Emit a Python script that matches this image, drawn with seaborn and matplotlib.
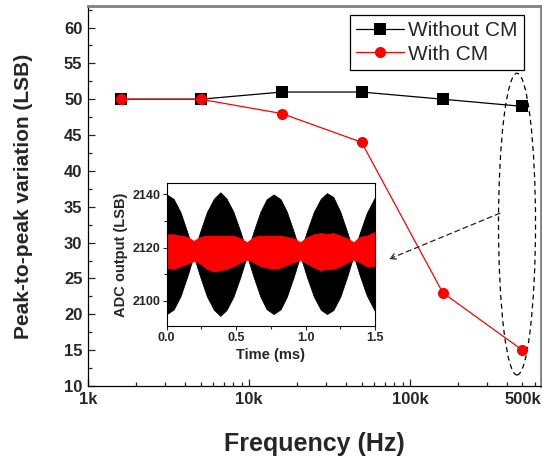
import numpy as np
import pandas as pd
import matplotlib
matplotlib.use('Agg')
import matplotlib.pyplot as plt
from matplotlib.patches import Ellipse
from matplotlib.ticker import FixedLocator, MultipleLocator, NullFormatter
import seaborn as sns

# main curves
freq_hz = [1.6e3, 5e3, 1.6e4, 5e4, 1.6e5, 5e5]
without_cm = [50, 50, 51, 51, 50, 49]
with_cm = [50, 50, 48, 44, 23, 15]
freq_ticks = [1e3, 1e4, 1e5, 5e5]
freq_labels = ['1k', '10k', '100k', '500k']

# inset: envelopes of the ADC output bands
time_ms = [0.0, 0.05, 0.1, 0.15, 0.194, 0.24, 0.29, 0.34, 0.386, 0.43, 0.48,
           0.53, 0.578, 0.625, 0.675, 0.72, 0.77, 0.82, 0.865, 0.915, 0.962,
           1.01, 1.06, 1.11, 1.154, 1.2, 1.25, 1.3, 1.346, 1.39, 1.44, 1.5]
black_upper = [2140, 2138.3, 2133.2, 2125.5, 2118, 2125.8, 2133.4, 2138.4,
               2140.8, 2138.5, 2133.5, 2126.1, 2118, 2125.9, 2133.5, 2138.2,
               2140, 2138.2, 2133.5, 2125.9, 2118, 2126.1, 2133.5, 2138.4,
               2140.5, 2139, 2133.5, 2125.8, 2118, 2125.4, 2132.9, 2139]
black_lower = [2095, 2096.7, 2101.8, 2109.5, 2117, 2109.2, 2101.6, 2096.6,
               2094.3, 2096.5, 2101.5, 2108.9, 2117, 2109.1, 2101.5, 2096.8,
               2095, 2096.8, 2101.5, 2109.1, 2117, 2108.9, 2101.5, 2096.6,
               2095, 2096.5, 2101.5, 2109.2, 2117, 2109.6, 2102.1, 2096]
red_upper = [2125, 2125, 2124.5, 2124, 2122.5, 2124, 2124.5, 2124.5, 2124.5,
             2124.5, 2124.5, 2123.5, 2122, 2124, 2124.5, 2124.5, 2124.5,
             2124.5, 2124, 2123.5, 2122, 2124, 2125, 2125.5, 2125, 2125.5,
             2124.5, 2123.5, 2122, 2124, 2124.5, 2126]
red_lower = [2112.5, 2112, 2113, 2114, 2115, 2114, 2112, 2111, 2111.5, 2112,
             2113, 2114.5, 2115.5, 2114.5, 2113, 2112.5, 2112, 2112.5, 2113.5,
             2114.5, 2115.5, 2114, 2112.5, 2111.5, 2112, 2112, 2113, 2114.5,
             2115.5, 2114.5, 2113, 2113]

sns.set_style('ticks')
plt.rcParams['font.family'] = ['Liberation Sans', 'DejaVu Sans']

df = pd.DataFrame({
    'freq': freq_hz * 2,
    'p2p': without_cm + with_cm,
    'mode': ['Without CM'] * len(freq_hz) + ['With CM'] * len(freq_hz),
})

fig = plt.figure(figsize=(5.42, 4.62), dpi=100)
ax = fig.add_axes([0.1624, 0.1645, 0.8358, 0.8225])

sns.lineplot(data=df, x='freq', y='p2p', hue='mode', style='mode',
             palette={'Without CM': 'black', 'With CM': 'red'},
             markers={'Without CM': 's', 'With CM': 'o'}, dashes=False,
             linewidth=0.9, markersize=8, markeredgewidth=0, ax=ax)

ax.set_xscale('log')
ax.set_xlim(1e3, 6.52e5)
ax.set_ylim(10, 63)
ax.xaxis.set_major_locator(FixedLocator(freq_ticks))
ax.set_xticklabels(freq_labels)
ax.xaxis.set_minor_formatter(NullFormatter())
ax.yaxis.set_major_locator(MultipleLocator(5))
ax.yaxis.set_minor_locator(MultipleLocator(2.5))
ax.tick_params(which='both', direction='in', width=0.9, labelsize=12)
ax.tick_params(which='major', length=5, pad=4)
ax.tick_params(which='minor', length=3)
ax.xaxis.get_major_ticks()[3].tick1line.set_markersize(3)
for lab in ax.get_xticklabels() + ax.get_yticklabels():
    lab.set_fontweight('bold')
ax.set_xlabel('Frequency (Hz)', fontsize=18, fontweight='bold', labelpad=18)
ax.set_ylabel('Peak-to-peak variation (LSB)', fontsize=15, fontweight='bold',
              labelpad=22)
for s in ['left', 'bottom']:
    ax.spines[s].set_linewidth(0.9)
    ax.spines[s].set_color('black')
for s in ['top', 'right']:
    ax.spines[s].set_linewidth(2)
    ax.spines[s].set_color('#808080')

handles, labels = ax.get_legend_handles_labels()
leg = ax.legend(handles, labels, loc='upper right',
                bbox_to_anchor=(0.962, 0.976), fontsize=15, frameon=True,
                fancybox=False, edgecolor='black', framealpha=1,
                handlelength=2.3, handletextpad=0.2, labelspacing=0.2,
                borderpad=0.3, borderaxespad=0)
leg.get_frame().set_linewidth(0.9)

# dashed ellipse around the highest-frequency points and the arrow to the inset
ax.add_patch(Ellipse((0.947, 0.426), 0.0817, 0.794, transform=ax.transAxes,
                     fill=False, linestyle=(0, (4, 3)), linewidth=0.9,
                     edgecolor='black'))
ax.annotate('', xy=(7.4e4, 27.7), xytext=(3.62e5, 34.1),
            arrowprops=dict(arrowstyle='->', linestyle=(0, (4, 3)),
                            linewidth=0.9, color='#222222',
                            shrinkA=0, shrinkB=0))

# inset
ins = fig.add_axes([0.3076, 0.2944, 0.3843, 0.310])
ins.fill_between(time_ms, black_lower, black_upper, color='black',
                 linewidth=0.6)
ins.fill_between(time_ms, red_lower, red_upper, color='red', linewidth=0.6)
ins.set_xlim(0, 1.5)
ins.set_ylim(2090.5, 2144.4)
ins.xaxis.set_major_locator(MultipleLocator(0.5))
ins.xaxis.set_minor_locator(MultipleLocator(0.25))
ins.yaxis.set_major_locator(MultipleLocator(20))
ins.yaxis.set_minor_locator(MultipleLocator(10))
ins.xaxis.set_major_formatter(matplotlib.ticker.FormatStrFormatter('%.1f'))
ins.tick_params(which='both', direction='out', width=0.8, labelsize=9, pad=1.5)
ins.tick_params(which='major', length=3)
ins.tick_params(which='minor', length=2)
for lab in ins.get_xticklabels() + ins.get_yticklabels():
    lab.set_fontweight('bold')
ins.set_xlabel('Time (ms)', fontsize=10.5, fontweight='bold', labelpad=3)
ins.set_ylabel('ADC output (LSB)', fontsize=10.5, fontweight='bold',
               labelpad=3)
for s in ins.spines.values():
    s.set_linewidth(0.8)
    s.set_color('black')

fig.savefig('out.png', dpi=100)
